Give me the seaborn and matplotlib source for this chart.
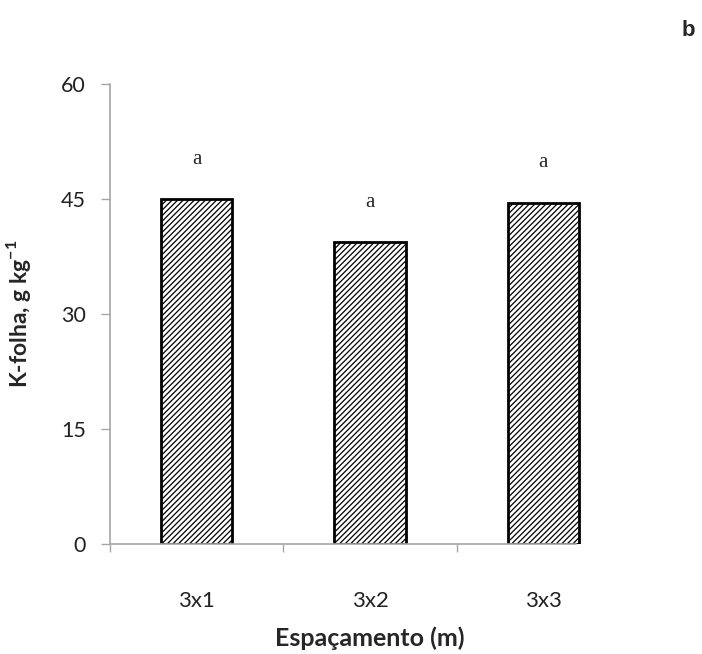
import matplotlib
matplotlib.use("Agg")
import matplotlib.pyplot as plt
import seaborn as sns
import pandas as pd
from matplotlib.ticker import FixedLocator

# Leaf potassium by planting spacing
espacamento = ["3x1", "3x2", "3x3"]
k_folha = [45.0, 39.4, 44.5]
letras = ["a", "a", "a"]
y_ticks = [0, 15, 30, 45, 60]

df = pd.DataFrame({"Espaçamento": espacamento, "K": k_folha})

sns.set_style("ticks")
plt.rcParams["font.family"] = ["Lato", "DejaVu Sans"]
plt.rcParams["hatch.linewidth"] = 0.9

fig = plt.figure(figsize=(7.02, 6.54), dpi=100)
ax = fig.add_axes([110 / 702, 1 - 544 / 654, 520 / 702, 460 / 654])

sns.barplot(data=df, x="Espaçamento", y="K", color="white", edgecolor="black",
            linewidth=2, width=0.41, hatch="//////", ax=ax, saturation=1)

ax.set_xlim(-0.5, 2.5)
ax.set_ylim(0, 60)
ax.set_yticks(y_ticks)
ax.set_yticklabels([str(t) for t in y_ticks], fontsize=15.5, color="#222222")

# category labels at bar centres, tick marks at category boundaries
ax.set_xticks(range(len(espacamento)))
ax.set_xticklabels(espacamento, fontsize=16, color="#222222")
ax.xaxis.set_minor_locator(FixedLocator([-0.5, 0.5, 1.5]))
ax.tick_params(axis="x", which="major", length=0, pad=34)
ax.tick_params(axis="x", which="minor", length=6, width=1, color="#a6a6a6", direction="out")
ax.tick_params(axis="y", length=6.5, width=1, color="#a6a6a6", pad=11)

for s in ["top", "right"]:
    ax.spines[s].set_visible(False)
for s in ["left", "bottom"]:
    ax.spines[s].set_color("#a6a6a6")
    ax.spines[s].set_linewidth(1.2)
ax.spines["bottom"].set_bounds(-0.5, 2.19)

for i, (v, t) in enumerate(zip(k_folha, letras)):
    ax.text(i, v + 5.2, t, ha="center", va="center", fontsize=15,
            family=["Liberation Serif", "DejaVu Serif"])

ax.set_xlabel("Espaçamento (m)", fontsize=18, fontweight="bold")
ax.xaxis.set_label_coords(0.5, -0.18)
ax.set_ylabel("K-folha, g kg$^{\\mathregular{-1}}$", fontsize=16.5, fontweight="bold")
ax.yaxis.set_label_coords(-0.148, 0.5)

fig.text(688 / 702, 1 - 31 / 654, "b", fontsize=16, fontweight="bold",
         family=["Liberation Sans", "DejaVu Sans"], ha="center", va="center")

fig.savefig("out.png", dpi=100, facecolor="white")
